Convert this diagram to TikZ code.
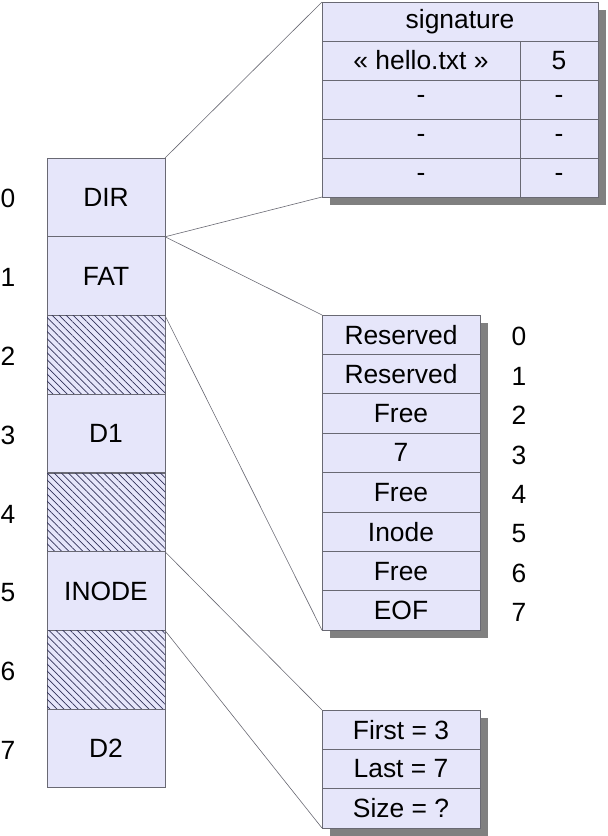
\documentclass[tikz,border=0pt]{standalone}
\usepackage{fontspec}
\setmainfont{Liberation Sans}
\usetikzlibrary{patterns.meta,backgrounds,calc}

\definecolor{cellfill}{RGB}{230,230,250}
\definecolor{cellline}{RGB}{105,105,115}
\definecolor{hatchline}{RGB}{50,50,90}
\definecolor{shadowgray}{RGB}{128,128,128}

\tikzset{
  cell/.style={draw=cellline, fill=cellfill, line width=0.5pt, inner sep=0pt, outer sep=0pt,
    font=\fontsize{13.2}{15}\selectfont},
  block/.style={cell, minimum width=59pt, minimum height=39.375pt},
  hatched/.style={block, postaction={pattern={Lines[angle=-45,distance=2.5pt,line width=0.35pt]}, pattern color=hatchline}},
  fatcell/.style={cell, minimum width=79pt, minimum height=19.7pt},
  dircell/.style={cell, minimum height=19.5pt},
  idx/.style={inner sep=0pt, font=\fontsize{13.2}{15}\selectfont},
  link/.style={draw=cellline, line width=0.3pt},
  shadow/.style={fill=shadowgray}
}

\begin{document}
\begin{tikzpicture}[x=0.5pt, y=-0.5pt]
\useasboundingbox (0,0) rectangle (607,836);

% disk blocks
\node [block] (b0) at (106,197.4) {DIR};
\node [block] (b1) at (106,276.1) {FAT};
\node [hatched] (b2) at (106,354.9) {};
\node [block] (b3) at (106,433.6) {D1};
\node [hatched] (b4) at (106,512.4) {};
\node [block] (b5) at (106,591.1) {INODE};
\node [hatched] (b6) at (106,669.9) {};
\node [block] (b7) at (106,748.6) {D2};

\node [idx] (n0) at (8,198) {0};
\node [idx] (n1) at (8,277) {1};
\node [idx] (n2) at (8,356) {2};
\node [idx] (n3) at (8,435) {3};
\node [idx] (n4) at (8,514) {4};
\node [idx] (n5) at (8,593) {5};
\node [idx] (n6) at (8,671) {6};
\node [idx] (n7) at (8,750) {7};

% directory
\node [dircell, minimum width=138pt] (d0) at (460,21.5) {signature};
\node [dircell, minimum width=99pt] (d1l) at (421,60.5) {« hello.txt »};
\node [dircell, minimum width=39pt] (d1r) at (559,60.5) {5};
\node [dircell, minimum width=99pt] (d2l) at (421,99.5) {-};
\node [dircell, minimum width=39pt] (d2r) at (559,99.5) {-};
\node [dircell, minimum width=99pt] (d3l) at (421,138.5) {-};
\node [dircell, minimum width=39pt] (d3r) at (559,138.5) {-};
\node [dircell, minimum width=99pt] (d4l) at (421,177.5) {-};
\node [dircell, minimum width=39pt] (d4r) at (559,177.5) {-};

% fat
\node [fatcell] (f0) at (401,334.7) {Reserved};
\node [fatcell] (f1) at (401,374.1) {Reserved};
\node [fatcell] (f2) at (401,413.5) {Free};
\node [fatcell] (f3) at (401,452.9) {7};
\node [fatcell] (f4) at (401,492.3) {Free};
\node [fatcell] (f5) at (401,531.7) {Inode};
\node [fatcell] (f6) at (401,571.1) {Free};
\node [fatcell] (f7) at (401,610.5) {EOF};

\node [idx] (m0) at (519,336) {0};
\node [idx] (m1) at (519,376) {1};
\node [idx] (m2) at (519,415) {2};
\node [idx] (m3) at (519,455) {3};
\node [idx] (m4) at (519,494) {4};
\node [idx] (m5) at (519,534) {5};
\node [idx] (m6) at (519,573) {6};
\node [idx] (m7) at (519,612) {7};

% inode
\node [fatcell] (i0) at (401,729.7) {First = 3};
\node [fatcell] (i1) at (401,769) {Last = 7};
\node [fatcell] (i2) at (401,808.3) {Size = ?};

\begin{scope}[on background layer]
\fill [shadow] ($(d0.north west)+(8,8)$) rectangle ($(d4r.south east)+(8,8)$);
\fill [shadow] ($(f0.north west)+(8,8)$) rectangle ($(f7.south east)+(8,8)$);
\fill [shadow] ($(i0.north west)+(8,8)$) rectangle ($(i2.south east)+(8,8)$);
\end{scope}

\draw [link] (b0.north east) -- (d0.north west);
\draw [link] (b0.south east) -- (d4l.south west);
\draw [link] (b1.north east) -- (f0.north west);
\draw [link] (b1.south east) -- (f7.south west);
\draw [link] (b5.north east) -- (i0.north west);
\draw [link] (b5.south east) -- (i2.south west);
\end{tikzpicture}
\end{document}
